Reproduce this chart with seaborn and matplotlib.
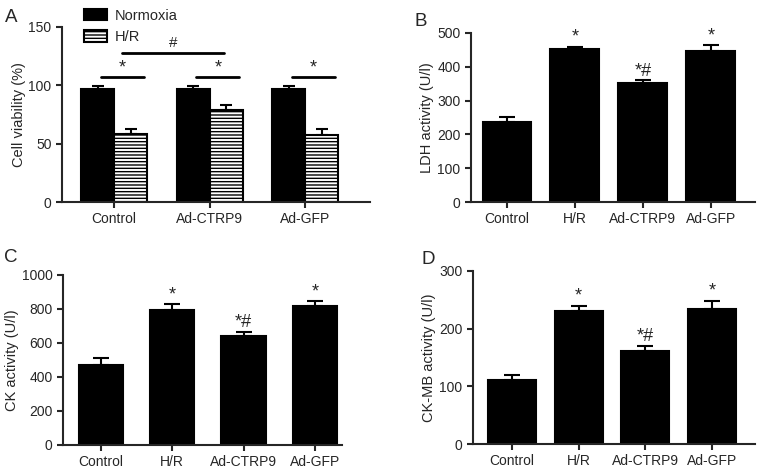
import pandas as pd
import matplotlib.pyplot as plt
import seaborn as sns
import numpy as np
from matplotlib.patches import Patch

# Data
groups_a = ['Control', 'Ad-CTRP9', 'Ad-GFP']
normoxia = [97, 97, 97]
normoxia_err = [2, 2, 2]
hr = [58.5, 78.5, 57.5]
hr_err = [4.5, 4.3, 5.5]

groups = ['Control', 'H/R', 'Ad-CTRP9', 'Ad-GFP']
ldh = [237, 452, 352, 448]
ldh_err = [14, 8, 8, 16]
ck = [472, 793, 640, 817]
ck_err = [37, 36, 27, 30]
ckmb = [111, 231, 161, 234]
ckmb_err = [9, 9, 9, 14]
marks = ['', '*', '*#', '*']

sns.set_style('ticks')
plt.rcParams['font.family'] = ['Liberation Sans', 'DejaVu Sans']
plt.rcParams['hatch.linewidth'] = 1.0

W, H = 765, 472
fig = plt.figure(figsize=(W / 100, H / 100), dpi=100)


def px_axes(l, r, b, t):
    return fig.add_axes([l / W, 1 - b / H, (r - l) / W, (b - t) / H])


def style(ax, ylim, step, ylabel):
    ax.set_ylim(0, ylim)
    ax.set_yticks(np.arange(0, ylim + 1, step))
    ax.set_ylabel(ylabel, fontsize=10.5, labelpad=2)
    ax.set_xlabel('')
    for s in ['top', 'right']:
        ax.spines[s].set_visible(False)
    for s in ['left', 'bottom']:
        ax.spines[s].set_linewidth(1.5)
    ax.tick_params(axis='both', width=1.5, length=4, labelsize=10, direction='out')


def up_err(ax, container, err, cap):
    xs = [p.get_x() + p.get_width() / 2 for p in container]
    ys = [p.get_height() for p in container]
    ax.errorbar(xs, ys, yerr=[np.zeros(len(err)), err], fmt='none', ecolor='black',
                elinewidth=1.5, capsize=cap, capthick=1.5, zorder=1)


def single(ax, vals, errs, xlim, width, ylim, step, ylabel, off):
    df = pd.DataFrame({'group': groups, 'value': vals})
    sns.barplot(data=df, x='group', y='value', color='black', edgecolor='black',
                linewidth=1.5, width=width, errorbar=None, ax=ax, zorder=2)
    up_err(ax, ax.containers[0], errs, 6)
    for p, e, m in zip(ax.containers[0], errs, marks):
        if m:
            ax.text(p.get_x() + p.get_width() / 2, p.get_height() + e + off, m,
                    ha='center', va='bottom', fontsize=13)
    ax.set_xlim(*xlim)
    style(ax, ylim, step, ylabel)


# A
ax = px_axes(62, 370, 202, 27)
df_a = pd.DataFrame({
    'group': groups_a * 2,
    'value': normoxia + hr,
    'cond': ['Normoxia'] * 3 + ['H/R'] * 3,
})
sns.barplot(data=df_a, x='group', y='value', hue='cond', palette=['black', 'white'],
            edgecolor='black', linewidth=1.5, width=0.69, errorbar=None,
            legend=False, ax=ax, zorder=2)
for p in ax.containers[1]:
    p.set_hatch('-----')
up_err(ax, ax.containers[0], normoxia_err, 4.5)
up_err(ax, ax.containers[1], hr_err, 4.5)
ax.set_xlim(-0.545, 2.68)
style(ax, 150, 50, 'Cell viability (%)')
n_bars = list(ax.containers[0])
h_bars = list(ax.containers[1])
for nb, hb in zip(n_bars, h_bars):
    x0 = nb.get_x() + nb.get_width() * 0.6
    x1 = hb.get_x() + hb.get_width() * 0.9
    ax.plot([x0, x1], [107, 107], color='black', lw=2)
    ax.text((x0 + x1) / 2, 107.5, '*', ha='center', va='bottom', fontsize=13)
xa = h_bars[0].get_x() + h_bars[0].get_width() * 0.25
xb = h_bars[1].get_x() + h_bars[1].get_width() * 0.45
ax.plot([xa, xb], [128, 128], color='black', lw=2)
ax.text((xa + xb) / 2, 130, '#', ha='center', va='bottom', fontsize=11)
handles = [Patch(facecolor='black', edgecolor='black', linewidth=1.5),
           Patch(facecolor='white', edgecolor='black', linewidth=1.5, hatch='-----')]
fig.legend(handles, ['Normoxia', 'H/R'], loc='upper left', bbox_to_anchor=(78 / W, 1 - 3 / H),
           frameon=False, fontsize=10.5, handlelength=1.6, handleheight=0.8,
           handletextpad=0.5, labelspacing=0.5, borderaxespad=0)

# B
ax = px_axes(471, 755, 202, 33)
single(ax, ldh, ldh_err, (-0.53, 3.65), 0.72, 500, 100, 'LDH activity (U/l)', 2)

# C
ax = px_axes(63, 342, 445, 275)
single(ax, ck, ck_err, (-0.53, 3.38), 0.62, 1000, 200, 'CK activity (U/l)', 6)

# D
ax = px_axes(473, 755, 444, 271)
single(ax, ckmb, ckmb_err, (-0.58, 3.64), 0.72, 300, 100, 'CK-MB activity (U/l)', 2)

for letter, x, y in [('A', 5, 22), ('B', 414, 26), ('C', 4, 262), ('D', 421, 264)]:
    fig.text(x / W, 1 - y / H, letter, fontsize=13.5, ha='left', va='baseline')

fig.savefig('out.png', dpi=100)
